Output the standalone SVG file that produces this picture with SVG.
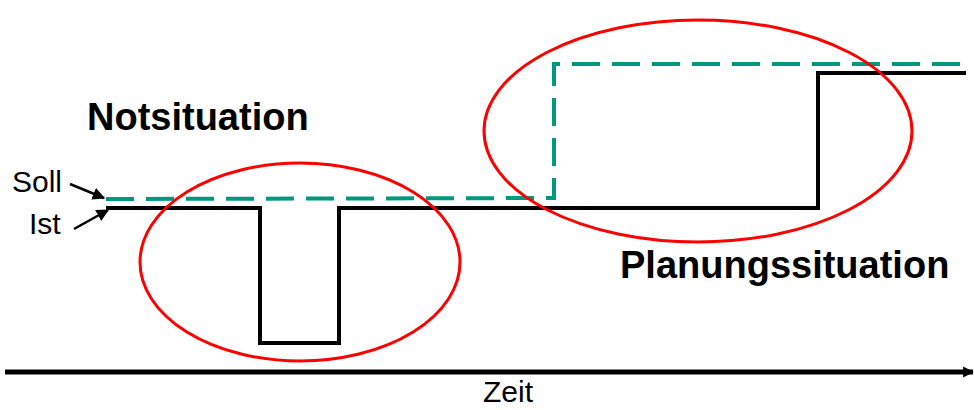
<svg xmlns="http://www.w3.org/2000/svg" width="974" height="410" viewBox="0 0 974 410">
  <style>
    .lbl { font-family: "Liberation Sans", Arial, sans-serif; fill: #000; }
    .big { font-size: 38px; font-weight: bold; }
    .sm { font-size: 30px; }
    .ist { fill: none; stroke: #000; stroke-width: 4; stroke-linejoin: miter; }
    .soll { fill: none; stroke: #009980; stroke-width: 4; stroke-dasharray: 28 12; }
    .zone { fill: none; stroke: #ff0000; stroke-width: 3; }
    .ptr { stroke: #000; stroke-width: 2.5; fill: none; }
  </style>
  <defs>
    <marker id="ah" viewBox="0 0 10 10" refX="9" refY="5" markerWidth="5" markerHeight="5" orient="auto" markerUnits="strokeWidth">
      <path d="M0,0 L10,5 L0,10 Z" fill="#000"/>
    </marker>
    <marker id="axh" viewBox="0 0 10 10" refX="9" refY="5" markerWidth="2.2" markerHeight="2.6" orient="auto" markerUnits="strokeWidth">
      <path d="M0,0 L10,5 L0,10 Z" fill="#000"/>
    </marker>
  </defs>

  <g id="connectors">
    <!-- time axis -->
    <line x1="5" y1="372" x2="973" y2="372" stroke="#000" stroke-width="5" marker-end="url(#axh)"/>
    <!-- actual value -->
    <polyline class="ist" points="106,208 260,208 260,343 339,343 339,208 818,208 818,73 966,73"/>
    <!-- target value -->
    <polyline class="soll" points="106,199 554,198 554,64 966,64"/>
    <!-- label pointers -->
    <line class="ptr" x1="70" y1="184" x2="104" y2="198" marker-end="url(#ah)"/>
    <line class="ptr" x1="74" y1="229" x2="108" y2="210" marker-end="url(#ah)"/>
  </g>

  <g id="notsituation">
    <ellipse class="zone" cx="300" cy="262" rx="160" ry="99"/>
    <text class="lbl big" x="87" y="130">Notsituation</text>
  </g>

  <g id="planungssituation">
    <ellipse class="zone" cx="698" cy="131" rx="214" ry="111"/>
    <text class="lbl big" x="620" y="278">Planungssituation</text>
  </g>

  <g id="soll">
    <text class="lbl sm" x="12" y="192">Soll</text>
  </g>
  <g id="ist">
    <text class="lbl sm" x="29" y="234">Ist</text>
  </g>
  <g id="zeit">
    <text class="lbl sm" x="483" y="402">Zeit</text>
  </g>
</svg>
